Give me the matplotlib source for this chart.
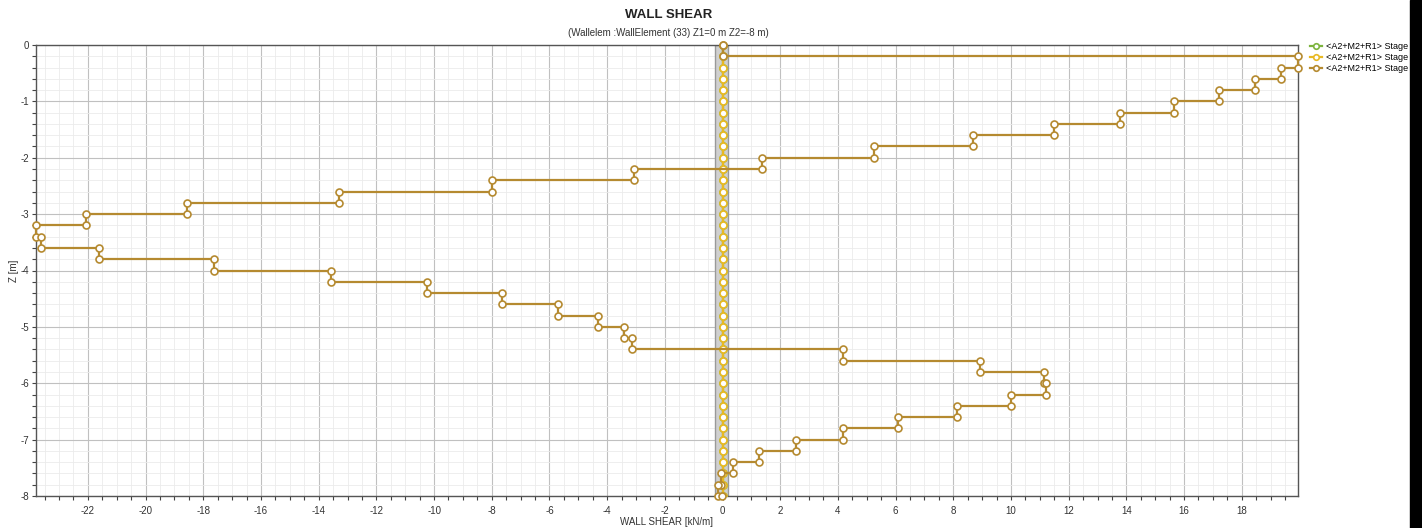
import numpy as np
import matplotlib.pyplot as plt
from matplotlib.patches import Rectangle
from matplotlib.ticker import MultipleLocator

plt.rcParams['font.family'] = ['Liberation Sans', 'DejaVu Sans']
plt.rcParams['axes.unicode_minus'] = False

# node depths of the wall element (0.2 m spacing)
z_nodes = np.round(np.arange(0, -8.01, -0.2), 2)

# shear per element (kN/m), element i spans z_nodes[i] .. z_nodes[i+1]
shear_start = 0.0
shear_elem = [0.0, 19.94, 19.35, 18.45, 17.2, 15.65, 13.77, 11.5, 8.68, 5.24,
              1.36, -3.07, -7.98, -13.3, -18.57, -22.07, -23.8, -23.63, -21.6, -17.63,
              -13.58, -10.25, -7.65, -5.7, -4.3, -3.4, -3.14, 4.16, 8.93, 11.14,
              11.2, 10.0, 8.13, 6.09, 4.18, 2.54, 1.27, 0.38, -0.06, -0.16]
shear_end = -0.03

# the two earlier stages sit on zero
stage1_shear = [0.0] * len(z_nodes)
stage2_shear = [0.0] * len(z_nodes)

legend_labels = ['<A2+M2+R1> Stage', '<A2+M2+R1> Stage', '<A2+M2+R1> Stage']
colors = ['#7DB43E', '#E8B923', '#B58A30']

# build the stepped path of the last stage
xs = [shear_start]
zs = [z_nodes[0]]
for i, v in enumerate(shear_elem):
    xs += [v, v]
    zs += [z_nodes[i], z_nodes[i + 1]]
xs.append(shear_end)
zs.append(z_nodes[-1])

fig = plt.figure(figsize=(14.22, 5.28), dpi=100)
ax = fig.add_axes([36 / 1422, 32 / 528, 1262 / 1422, 451 / 528])

ax.axvspan(-0.27, 0.2, facecolor='#d0d0d0', edgecolor='#999999', lw=1, zorder=1)

mk = dict(marker='o', markersize=5, markerfacecolor='white', markeredgewidth=1.2, lw=1.6)
ax.plot(stage1_shear, z_nodes, color=colors[0], label=legend_labels[0], zorder=3, **mk)
ax.plot(stage2_shear, z_nodes, color=colors[1], label=legend_labels[1], zorder=4, **mk)
ax.plot(xs, zs, color=colors[2], label=legend_labels[2], zorder=5, clip_on=False, **mk)

ax.xaxis.set_major_locator(MultipleLocator(2))
ax.xaxis.set_minor_locator(MultipleLocator(0.5))
ax.yaxis.set_major_locator(MultipleLocator(1))
ax.yaxis.set_minor_locator(MultipleLocator(0.2))
ax.set_xlim(-23.8, 19.95)
ax.set_ylim(-8, 0)

ax.grid(which='major', color='#c0c0c0', lw=0.8, zorder=0)
ax.grid(which='minor', color='#ebebeb', lw=0.6, zorder=0)
ax.set_axisbelow(True)

ax.tick_params(which='both', direction='out', length=3, width=0.8, color='#444444',
               labelsize=7, labelcolor='#333333')
ax.tick_params(axis='x', pad=4)
ax.tick_params(axis='y', pad=2)
for s in ax.spines.values():
    s.set_color('#555555')
    s.set_linewidth(1)

ax.set_xlabel('WALL SHEAR [kN/m]', fontsize=7, color='#333333', labelpad=1)
ax.set_ylabel('Z [m]', fontsize=7, color='#333333', labelpad=1)

fig.text(0.47, 0.972, 'WALL SHEAR', ha='center', va='center', fontsize=9.5,
         fontweight='bold', color='#222222')
fig.text(0.47, 0.938, '(Wallelem :WallElement (33) Z1=0 m Z2=-8 m)', ha='center',
         va='center', fontsize=7, color='#333333')

ax.legend(loc='upper left', bbox_to_anchor=(1.007, 1.015), frameon=False, fontsize=6.5,
          handlelength=1.3, labelspacing=0.25, handletextpad=0.4, borderaxespad=0,
          markerscale=0.8)

fig.patches.append(Rectangle((1410 / 1422, 0), 12 / 1422, 1, transform=fig.transFigure,
                             color='black', zorder=10))

fig.savefig('out.png', dpi=100)
